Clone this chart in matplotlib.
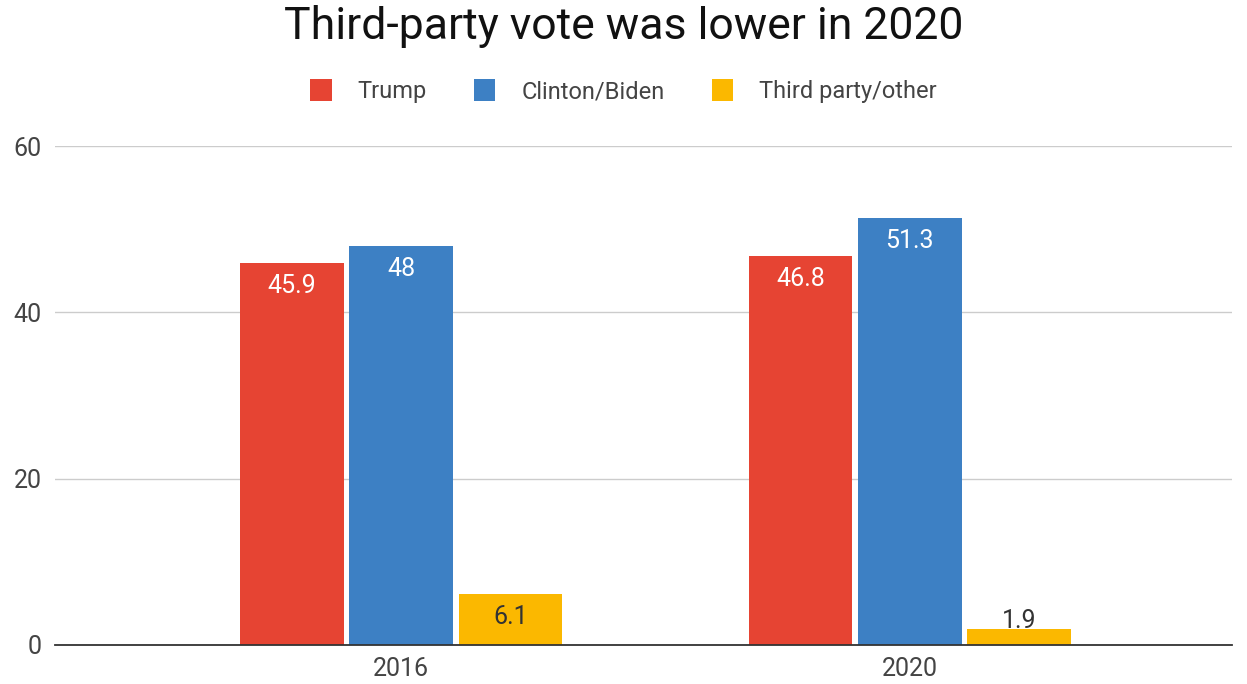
import matplotlib.pyplot as plt
import numpy as np

plt.rcParams['font.family'] = ['Roboto', 'DejaVu Sans']

years = ['2016', '2020']
series = ['Trump', 'Clinton/Biden', 'Third party/other']
trump = [45.9, 46.8]
biden = [48, 51.3]
third = [6.1, 1.9]
colors = ['#E64433', '#3D80C4', '#FBB800']
label_colors = ['white', 'white', '#333333']

fig = plt.figure(figsize=(12.47, 6.84), dpi=100)
ax = fig.add_axes([55 / 1247, 1 - 645 / 684, 1177 / 1247, 499 / 684])

x = np.arange(len(years))
width = 0.204
offsets = [-0.215, 0, 0.215]
for vals, name, col, lcol, off in zip([trump, biden, third], series, colors, label_colors, offsets):
    bars = ax.bar(x + off, vals, width, color=col, label=name, zorder=3)
    for b, v in zip(bars, vals):
        txt = f'{v:g}'
        if v > 4:
            ax.text(b.get_x() + b.get_width() / 2, v - 1.3, txt, ha='center', va='top',
                    color=lcol, fontsize=18, zorder=4)
        else:
            ax.text(b.get_x() + b.get_width() / 2, v - 0.5, txt, ha='center', va='bottom',
                    color=lcol, fontsize=18, zorder=4)

ax.set_xlim(-0.68, 1.633)
ax.set_ylim(0, 60)
ax.set_yticks([0, 20, 40, 60])
ax.set_xticks(x)
ax.set_xticklabels(years)
ax.grid(axis='y', color='#cccccc', linewidth=1, zorder=0)
for s in ['top', 'right', 'left']:
    ax.spines[s].set_visible(False)
ax.spines['bottom'].set_color('#333333')
ax.spines['bottom'].set_linewidth(1.3)
ax.spines['bottom'].set_zorder(5)
ax.tick_params(axis='both', length=0, labelsize=18, labelcolor='#444444')
ax.tick_params(axis='y', pad=9.5)
ax.tick_params(axis='x', pad=9)

fig.text(0.5, 1 - 27 / 684, 'Third-party vote was lower in 2020', ha='center', va='center',
         fontsize=32, color='#111111')
fig.legend(loc='center', bbox_to_anchor=(0.5, 1 - 91 / 684), ncol=3, frameon=False,
           fontsize=17, handlelength=0.9, handleheight=1.1, columnspacing=2.0, handletextpad=1.1,
           labelcolor='#444444')

fig.savefig('out.png', dpi=100)
